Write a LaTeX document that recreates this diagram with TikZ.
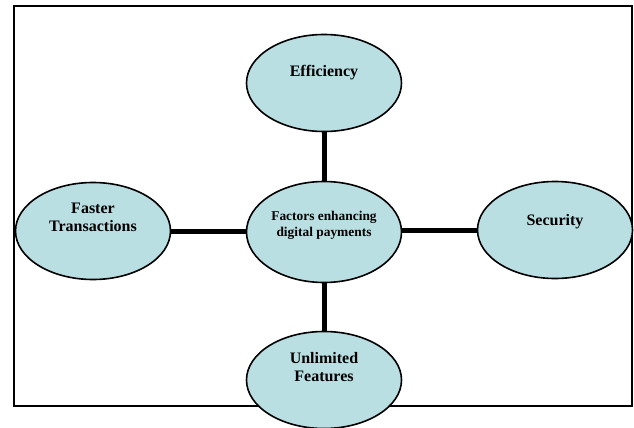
\documentclass[tikz,border=0pt]{standalone}
\usepackage{fontspec}
\setmainfont{Liberation Serif}
\usetikzlibrary{shapes.geometric}

\definecolor{bubblefill}{RGB}{186,223,226}

\tikzset{
	bubble/.style={ellipse, draw=black, line width=1.6pt, fill=bubblefill,
		minimum width=155pt, minimum height=97pt, inner sep=0pt},
	bubbletext/.style={font=\fontsize{16}{18}\selectfont\bfseries, align=center},
	spoke/.style={line width=5pt, black},
}

\begin{document}
\begin{tikzpicture}[x=1pt, y=-1pt]
	\useasboundingbox (0,0) rectangle (634,428);
	\draw[line width=2pt] (14,6) rectangle (632,406);

	% hub and the four factors
	\node[bubble, minimum height=101pt,
		label={[font=\fontsize{13.4}{16}\selectfont\bfseries, align=center, yshift=7pt]center:Factors enhancing\\digital payments}]
		(hub) at (324,232) {};
	\node[bubble, label={[bubbletext, yshift=10pt]center:Efficiency}] (eff) at (324,83) {};
	\node[bubble, label={[bubbletext, yshift=14pt]center:Faster\\Transactions}] (fast) at (93,231) {};
	\node[bubble, label={[bubbletext, yshift=8pt]center:Security}] (sec) at (555,230) {};
	\node[bubble, label={[bubbletext, yshift=13pt]center:Unlimited\\Features}] (feat) at (324,380) {};

	\draw[spoke] (eff) -- (hub);
	\draw[spoke] (hub) -- (feat);
	\draw[spoke] (fast.east) -- (fast.east -| hub.west);
	\draw[spoke] (sec.west) -- (sec.west -| hub.east);
\end{tikzpicture}
\end{document}
